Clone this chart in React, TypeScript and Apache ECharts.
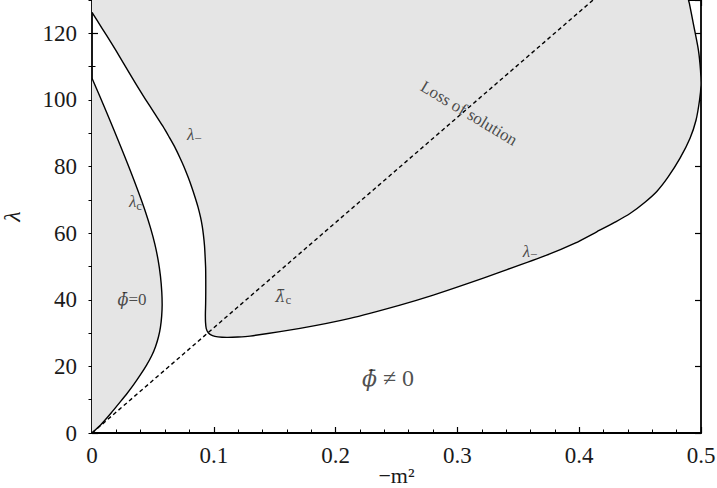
import React, { useEffect, useRef } from "react";
import * as echarts from "echarts";

// ---- data ----
const xTickValues = [0, 0.1, 0.2, 0.3, 0.4, 0.5];
const yTickValues = [0, 20, 40, 60, 80, 100, 120];

// lambda_c curve (boundary of phi=0 region), from the lambda axis down to the origin
const lambdaCX = [0, 0.0064, 0.0123, 0.0181, 0.0238, 0.0294, 0.0345, 0.0394, 0.044, 0.0481, 0.0516, 0.0543, 0.0562, 0.0573, 0.0576, 0.0572, 0.0562, 0.0546, 0.0522, 0.049, 0.0448, 0.0398, 0.0342, 0.028, 0.0215, 0.015, 0.0078, 0];
const lambdaCY = [106.5, 101.1, 96, 90.9, 85.8, 80.7, 75.9, 71.1, 66.3, 61.5, 56.7, 51.9, 47.1, 42.3, 38.4, 35.1, 31.8, 28.9, 26, 23.2, 20.4, 17.5, 14.5, 11.5, 8.6, 5.7, 2.7, 0];

// lambda_minus curve (boundary of the big shaded region)
const lambdaMinusX = [0, 0.008, 0.0162, 0.023, 0.0296, 0.0365, 0.0439, 0.0515, 0.0579, 0.0632, 0.0679, 0.0718, 0.0755, 0.0788, 0.0819, 0.0846, 0.087, 0.0891, 0.0905, 0.0915, 0.0924, 0.0929, 0.0933, 0.0934, 0.0934, 0.0933, 0.0931, 0.0932, 0.0938, 0.0956, 0.0989, 0.1034, 0.1106, 0.1199, 0.1297, 0.1708, 0.2118, 0.2529, 0.2802, 0.3076, 0.335, 0.3733, 0.3966, 0.4144, 0.4294, 0.4417, 0.454, 0.4639, 0.4729, 0.4828, 0.491, 0.4959, 0.4988, 0.5, 0.4996, 0.4979, 0.4937, 0.4905, 0.4897];
const lambdaMinusY = [126.3, 121.65, 116.9, 112.8, 108.75, 104.55, 100.2, 95.9, 92.25, 88.95, 85.9, 82.95, 79.95, 76.9, 73.8, 70.8, 67.9, 64.8, 62.1, 59.4, 56.1, 52.8, 49.5, 45.9, 42.3, 38.7, 35.7, 33.3, 31.35, 30, 29.25, 28.86, 28.7, 28.8, 29.1, 31.4, 34.4, 38.4, 41.4, 44.76, 48.3, 53.4, 57, 60.4, 63.3, 65.9, 69.3, 72.6, 76.8, 82.5, 88.5, 93.9, 99.9, 104.4, 108.9, 114.9, 122.9, 128.9, 130];

// closing corner of the big shaded region (top-left corner of the frame)
const regionBClosureX = [0];
const regionBClosureY = [130];

// "Loss of solution" dashed line
const lossX = [0, 0.4114];
const lossY = [0, 130];

// annotation anchors (data coordinates)
const annX = [0.084, 0.0357, 0.0329, 0.157, 0.3596, 0.3095, 0.243];
const annY = [89.5, 69.5, 40, 41, 54.6, 96, 16.5];
const annText = [
  "{i|λ}{s|−}",
  "{i|λ}{s|c}",
  "{b|ϕ̄}{n|=0}",
  "{b|λ̄}{s|c}",
  "{i|λ}{s|−}",
  "{n|Loss of solution}",
  "{B|ϕ̄}{N| ≠ 0}",
];
const annRotate = [0, 0, 0, 0, 0, -31, 0];

const FONT = "Liberation Serif";
const MARK_FONT = "DejaVu Serif";
const FILL = "#e5e5e5";

function regionSeries(xs: number[], ys: number[], cx: number[], cy: number[]) {
  return {
    type: "custom",
    coordinateSystem: "cartesian2d",
    xAxisIndex: 0,
    yAxisIndex: 0,
    clip: true,
    silent: true,
    z: 2,
    data: [[xs[0], ys[0]]],
    renderItem: (_params: any, api: any) => {
      const pts = xs.map((x, i) => api.coord([x, ys[i]]));
      const close = cx.map((x, i) => api.coord([x, cy[i]]));
      return {
        type: "group",
        children: [
          {
            type: "polygon",
            shape: { points: pts.concat(close) },
            style: { fill: FILL, stroke: "none" },
          },
          {
            type: "polyline",
            shape: { points: pts, smooth: 0.25 },
            style: { fill: "none", stroke: "#000", lineWidth: 1.4 },
          },
        ],
      };
    },
  };
}

export default function App() {
  const ref = useRef<HTMLDivElement>(null);

  useEffect(() => {
    if (!ref.current) return;
    const chart = echarts.init(ref.current, null, { renderer: "svg" });

    const axisLine = { show: true, onZero: false, lineStyle: { color: "#000", width: 1.8 } };
    const majorTick = { show: true, inside: true, length: 6, lineStyle: { color: "#000", width: 1.2 } };
    const minorTickY = { show: true, inside: true, length: 3.5, lineStyle: { color: "#000", width: 1 } };
    const labelStyle = { fontFamily: FONT, fontSize: 23, color: "#1a1a1a" };

    const rich = {
      i: { fontFamily: FONT, fontStyle: "italic", fontSize: 17, lineHeight: 20, color: "#222" },
      b: { fontFamily: MARK_FONT, fontStyle: "italic", fontSize: 16, lineHeight: 20, color: "#222" },
      n: { fontFamily: FONT, fontSize: 17, lineHeight: 20, color: "#222" },
      s: { fontFamily: FONT, fontSize: 13, lineHeight: 12, verticalAlign: "bottom", color: "#222" },
      B: { fontFamily: MARK_FONT, fontStyle: "italic", fontSize: 22, lineHeight: 28, color: "#222" },
      N: { fontFamily: FONT, fontSize: 24, lineHeight: 28, color: "#222" },
    };

    const option: any = {
      animation: false,
      backgroundColor: "#ffffff",
      textStyle: { fontFamily: FONT },
      grid: { left: 92, right: 16, top: 0, bottom: 55, containLabel: false, outerBoundsMode: "none" },
      xAxis: [
        {
          type: "value",
          min: 0,
          max: 0.5,
          interval: 0.1,
          position: "bottom",
          axisLine,
          axisTick: majorTick,
          minorTick: { show: true, splitNumber: 5, length: 3.5, lineStyle: { color: "#000", width: 1 } },
          splitLine: { show: false },
          minorSplitLine: { show: false },
          axisLabel: {
            ...labelStyle,
            margin: 11,
            formatter: (v: number) => {
              const t = xTickValues.find((k) => Math.abs(k - v) < 1e-9);
              return t === undefined ? "" : String(t);
            },
          },
          name: "−m²",
          nameLocation: "middle",
          nameGap: 31,
          nameMoveOverlap: false,
          nameTextStyle: { fontFamily: FONT, fontSize: 22, lineHeight: 22, color: "#1a1a1a" },
        },
        {
          type: "value",
          min: 0,
          max: 0.5,
          interval: 0.1,
          position: "top",
          axisLine,
          axisTick: majorTick,
          minorTick: { show: true, splitNumber: 5, length: 3.5, lineStyle: { color: "#000", width: 1 } },
          splitLine: { show: false },
          axisLabel: { show: false },
        },
      ],
      yAxis: [
        {
          type: "value",
          min: 0,
          max: 130,
          interval: 20,
          position: "left",
          offset: 0,
          axisLine,
          axisTick: majorTick,
          splitLine: { show: false },
          axisLabel: {
            ...labelStyle,
            margin: 15,
            formatter: (v: number) => (yTickValues.includes(v) ? String(v) : ""),
          },
          name: "λ",
          nameLocation: "middle",
          nameGap: 68,
          nameRotate: 90,
          nameMoveOverlap: false,
          nameTextStyle: { fontFamily: FONT, fontStyle: "italic", fontSize: 24, color: "#1a1a1a" },
        },
        {
          type: "value",
          min: 0,
          max: 130,
          interval: 10,
          position: "left",
          offset: 0,
          axisLine: { show: false },
          axisTick: minorTickY,
          splitLine: { show: false },
          axisLabel: { show: false },
        },
        {
          type: "value",
          min: 0,
          max: 130,
          interval: 20,
          position: "right",
          offset: 0,
          axisLine,
          axisTick: majorTick,
          splitLine: { show: false },
          axisLabel: { show: false },
        },
        {
          type: "value",
          min: 0,
          max: 130,
          interval: 10,
          position: "right",
          offset: 0,
          axisLine: { show: false },
          axisTick: minorTickY,
          splitLine: { show: false },
          axisLabel: { show: false },
        },
      ],
      series: [
        regionSeries(lambdaCX, lambdaCY, [], []),
        regionSeries(lambdaMinusX, lambdaMinusY, regionBClosureX, regionBClosureY),
        {
          type: "line",
          xAxisIndex: 0,
          yAxisIndex: 0,
          data: lossX.map((x, i) => [x, lossY[i]]),
          showSymbol: false,
          silent: true,
          z: 5,
          lineStyle: { color: "#000", width: 1.4, type: [4, 3] },
        },
        {
          type: "scatter",
          xAxisIndex: 0,
          yAxisIndex: 0,
          symbolSize: 0,
          silent: true,
          z: 10,
          data: annX.map((x, i) => ({
            value: [x, annY[i]],
            label: {
              show: true,
              position: "inside",
              align: "center",
              verticalAlign: "middle",
              rotate: annRotate[i],
              formatter: annText[i],
              rich,
            },
          })),
        },
      ],
    };

    chart.setOption(option);
    return () => chart.dispose();
  }, []);

  return (
    <div
      ref={ref}
      style={{ position: "fixed", left: 0, top: 0, width: 717, height: 488, background: "#fff" }}
    />
  );
}
